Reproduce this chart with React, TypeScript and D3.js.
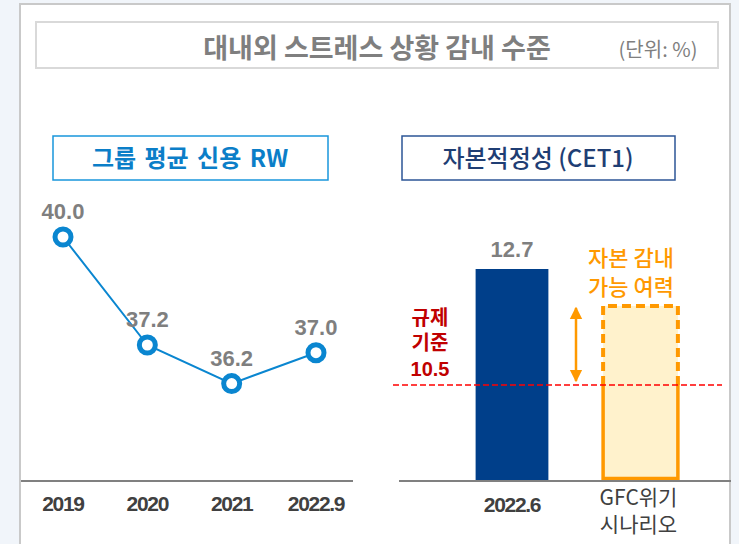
import * as d3 from 'd3';

// 그룹 평균 신용 RW (%)
const rwCategories = ['2019', '2020', '2021', '2022.9'];
const rwValues = [40.0, 37.2, 36.2, 37.0];

// 자본적정성 CET1 (%)
const cetCategories = ['2022.6', 'GFC'];
const cetCategoryLines = [['2022.6'], ['GFC위기', '시나리오']];
const cetActual = 12.7;
const cetScenarioCapacity = 12.0;
const regulatoryMin = 10.5;

const W = 739;
const H = 544;
const KR = '"Noto Sans CJK KR", "Noto Sans", sans-serif';
const NUM = '"Liberation Sans", Arial, sans-serif';

const BLUE = '#0a86d0';
const NAVY = '#003f8a';
const ORANGE = '#ff9900';
const GREY = '#7f7f7f';
const DARK = '#404040';

export default function App() {
  // left: line chart
  const xL = d3.scalePoint<string>().domain(rwCategories).range([63, 316]);
  const yL = d3.scaleLinear().domain([33.7, 40]).range([480, 237]);
  const line = d3
    .line<number>()
    .x((_, i) => xL(rwCategories[i]) ?? 0)
    .y((d) => yL(d));

  // right: bar + scenario box
  const xR = d3
    .scaleBand<string>()
    .domain(cetCategories)
    .range([449.25, 700.25])
    .paddingInner(0.42)
    .paddingOuter(0.21);
  const yR = d3.scaleLinear().domain([8.7, 12.7]).range([480, 269]);
  const bw = xR.bandwidth();
  const x0 = xR('2022.6') ?? 0;
  const x1 = xR('GFC') ?? 0;
  const yBase = yR(8.7);
  const yReg = yR(regulatoryMin);
  const yCap = yR(cetScenarioCapacity);
  const arrowX = 576;

  return (
    <div style={{ position: 'fixed', left: 0, top: 0 }}>
      <svg width={W} height={H} viewBox={`0 0 ${W} ${H}`}>
        <defs>
          <marker id="arr" viewBox="0 0 10 10" refX="9" refY="5" markerWidth="5" markerHeight="6" orient="auto-start-reverse" markerUnits="strokeWidth">
            <path d="M0,0 L10,5 L0,10 z" fill={ORANGE} />
          </marker>
        </defs>
        <rect x={0} y={0} width={W} height={H} fill="#f1f5fa" />
        <rect x={20} y={4} width={710} height={H + 10} fill="#fff" stroke="#c9c9c9" strokeWidth={2} />

        {/* title */}
        <rect x={36} y={22} width={682} height={46} fill="#fff" stroke="#d9d9d9" strokeWidth={2} />
        <text x={377} y={58} textAnchor="middle" fontFamily={KR} fontSize={27} fontWeight={700} fill={GREY}>
          대내외 스트레스 상황 감내 수준
        </text>
        <text x={658} y={57} textAnchor="middle" fontFamily={KR} fontSize={20} fill={GREY}>
          (단위: %)
        </text>

        {/* sub titles */}
        <rect x={53} y={136} width={275} height={44} fill="#fff" stroke="#1896dc" strokeWidth={1.5} />
        <text x={190} y={167} textAnchor="middle" fontFamily={KR} fontSize={24} fontWeight={700} fill="#0b7ec8" wordSpacing={3}>
          그룹 평균 신용 RW
        </text>
        <rect x={402} y={136} width={273} height={44} fill="#fff" stroke="#2c5596" strokeWidth={1.5} />
        <text x={538} y={167} textAnchor="middle" fontFamily={KR} fontSize={24} fontWeight={500} fill="#1f3e74">
          자본적정성 (CET1)
        </text>

        {/* left chart */}
        <line x1={21} x2={353} y1={481} y2={481} stroke="#808080" strokeWidth={2} />
        <path d={line(rwValues) ?? ''} fill="none" stroke={BLUE} strokeWidth={2} />
        {rwValues.map((v, i) => (
          <g key={rwCategories[i]}>
            <circle cx={xL(rwCategories[i])} cy={yL(v)} r={8} fill="#fff" stroke={BLUE} strokeWidth={5} />
            <text x={xL(rwCategories[i])} y={yL(v) - 18} textAnchor="middle" fontFamily={NUM} fontSize={22} fontWeight={700} fill={GREY}>
              {v.toFixed(1)}
            </text>
            <text x={xL(rwCategories[i])} y={511} textAnchor="middle" fontFamily={NUM} fontSize={21} fontWeight={700} fill={DARK} letterSpacing={-1.3}>
              {rwCategories[i]}
            </text>
          </g>
        ))}

        {/* right chart */}
        <rect x={x0} y={yR(cetActual)} width={bw} height={yBase - yR(cetActual)} fill={NAVY} />
        <text x={x0 + bw / 2} y={yR(cetActual) - 12} textAnchor="middle" fontFamily={NUM} fontSize={22} fontWeight={700} fill={GREY}>
          {cetActual.toFixed(1)}
        </text>

        <rect x={x1 + 2} y={yCap} width={bw + 2} height={yBase - yCap - 1} fill="#fff2cc" />
        <path
          d={`M${x1 + 2},${yReg} L${x1 + 2},${yCap} L${x1 + bw + 4},${yCap} L${x1 + bw + 4},${yReg}`}
          fill="none"
          stroke={ORANGE}
          strokeWidth={4}
          strokeDasharray="9,5"
        />
        <path
          d={`M${x1 + 2},${yReg} L${x1 + 2},${yBase - 1.5} L${x1 + bw + 4},${yBase - 1.5} L${x1 + bw + 4},${yReg}`}
          fill="none"
          stroke={ORANGE}
          strokeWidth={3.5}
        />

        <line x1={393} x2={722} y1={yReg} y2={yReg} stroke="#ff0000" strokeWidth={1.5} strokeDasharray="6,3" />
        <line x1={399} x2={731} y1={481} y2={481} stroke="#808080" strokeWidth={2} />

        <line
          x1={arrowX}
          x2={arrowX}
          y1={yCap + 2}
          y2={yReg - 4}
          stroke={ORANGE}
          strokeWidth={2.5}
          markerStart="url(#arr)"
          markerEnd="url(#arr)"
        />

        {['규제', '기준'].map((t, i) => (
          <text key={t} x={430} y={325 + i * 25} textAnchor="middle" fontFamily={KR} fontSize={20} fontWeight={700} fill="#c00000">
            {t}
          </text>
        ))}
        <text x={430} y={376} textAnchor="middle" fontFamily={NUM} fontSize={20} fontWeight={700} fill="#c00000">
          {regulatoryMin.toFixed(1)}
        </text>

        {['자본 감내', '가능 여력'].map((t, i) => (
          <text key={t} x={631} y={266 + i * 29} textAnchor="middle" fontFamily={KR} fontSize={22} fontWeight={500} fill={ORANGE}>
            {t}
          </text>
        ))}

        <text x={x0 + bw / 2} y={512} textAnchor="middle" fontFamily={NUM} fontSize={21} fontWeight={700} fill={DARK} letterSpacing={-1.3}>
          {cetCategoryLines[0][0]}
        </text>
        {cetCategoryLines[1].map((t, i) => (
          <text key={t} x={x1 + bw / 2 + 1} y={505 + i * 27} textAnchor="middle" fontFamily={KR} fontSize={21} fill={DARK}>
            {t}
          </text>
        ))}
      </svg>
    </div>
  );
}
